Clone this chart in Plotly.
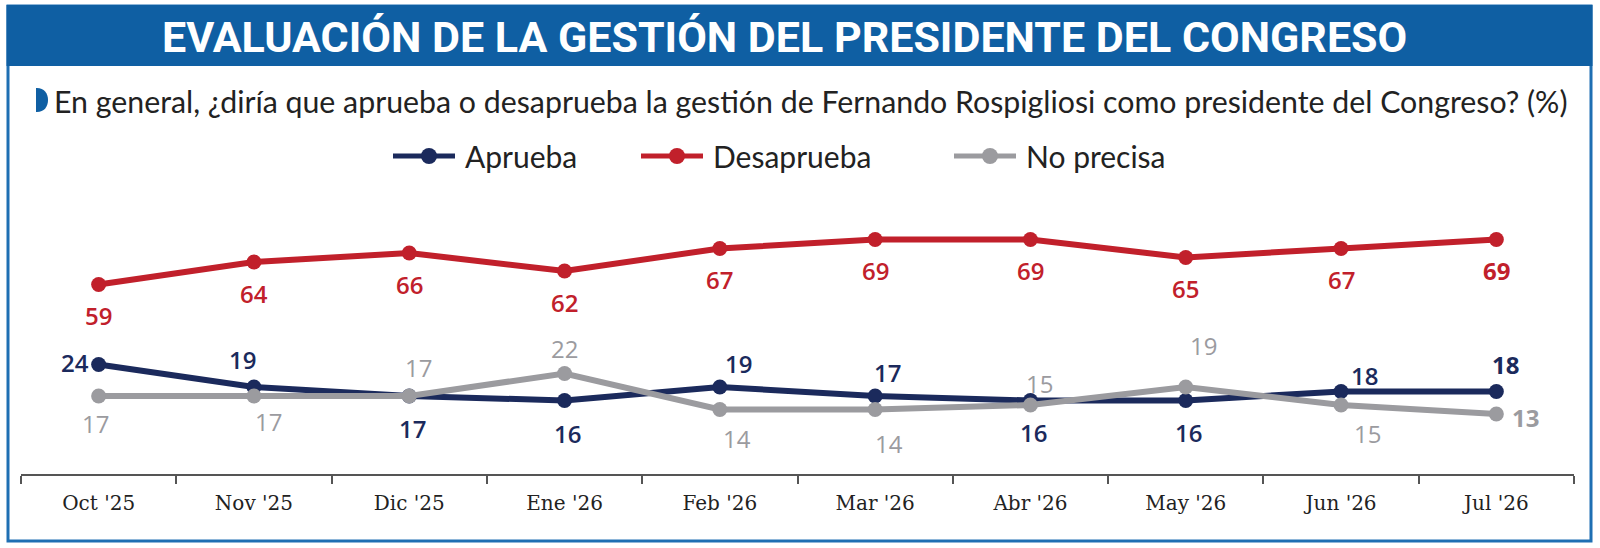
import plotly.graph_objects as go

# ---------------- data ----------------
months = ["Oct '25", "Nov '25", "Dic '25", "Ene '26", "Feb '26",
          "Mar '26", "Abr '26", "May '26", "Jun '26", "Jul '26"]
aprueba = [24, 19, 17, 16, 19, 17, 16, 16, 18, 18]
desaprueba = [59, 64, 66, 62, 67, 69, 69, 65, 67, 69]
no_precisa = [17, 17, 17, 22, 14, 14, 15, 19, 15, 13]

series_names = ["Aprueba", "Desaprueba", "No precisa"]
title_text = "EVALUACIÓN DE LA GESTIÓN DEL PRESIDENTE DEL CONGRESO"
subtitle_text = ("En general, ¿diría que aprueba o desaprueba la gestión de Fernando "
                 "Rospigliosi como presidente del Congreso? (%)")

# ---------------- styling / label placement (pixels: dx right, dy down) ----------------
NAVY = "#1b2a5c"
RED = "#c1202b"
GRAY = "#9b9b9f"
BLUE = "#0f5fa3"
BORDER = "#1e6fb3"

off_desaprueba = [(0, 31)] * 10
off_aprueba = [(-24, -2), (-11, -28), (3, 32), (3, 33), (19, -24),
               (12, -24), (3, 32), (3, 32), (23, -16), (9, -27)]
off_no_precisa = [(-3, 27), (15, 25), (9, -29), (0, -25), (17, 29),
                  (14, 34), (9, -22), (18, -42), (26, 28), (29, 3)]

W, H = 1600, 548
ML, MR, MT, MB = 21, 26, 140, 74
PW = W - ML - MR
PH = H - MT - MB


def px(x):
    return (x - ML) / PW


def py(y):
    return (H - MB - y) / PH


fig = go.Figure()

fig.add_trace(go.Scatter(x=months, y=desaprueba, name=series_names[1], yaxis="y2",
                         mode="lines+markers", line=dict(color=RED, width=6),
                         marker=dict(size=15, color=RED), cliponaxis=False,
                         showlegend=False, hoverinfo="skip"))
fig.add_trace(go.Scatter(x=months, y=aprueba, name=series_names[0], yaxis="y",
                         mode="lines+markers", line=dict(color=NAVY, width=6),
                         marker=dict(size=15, color=NAVY), cliponaxis=False,
                         showlegend=False, hoverinfo="skip"))
fig.add_trace(go.Scatter(x=months, y=no_precisa, name=series_names[2], yaxis="y",
                         mode="lines+markers", line=dict(color=GRAY, width=6),
                         marker=dict(size=15, color=GRAY), cliponaxis=False,
                         showlegend=False, hoverinfo="skip"))

annotations = []
LABEL_FONT = "Open Sans"


def add_labels(vals, offs, color, yref, weight):
    n = len(vals)
    for i, (m, v, (dx, dy)) in enumerate(zip(months, vals, offs)):
        w = 700 if i == n - 1 else weight
        annotations.append(dict(x=m, y=v, xref="x", yref=yref, text=str(v),
                                showarrow=False, xshift=dx, yshift=-dy,
                                xanchor="center", yanchor="middle",
                                font=dict(family=LABEL_FONT, size=24, color=color, weight=w)))


add_labels(desaprueba, off_desaprueba, RED, "y2", 600)
add_labels(aprueba, off_aprueba, NAVY, "y", 600)
add_labels(no_precisa, off_no_precisa, GRAY, "y", 500)

shapes = []
# outer border
shapes.append(dict(type="rect", xref="paper", yref="paper",
                   x0=px(8), x1=px(1591), y0=py(541), y1=py(6),
                   line=dict(color=BORDER, width=3), fillcolor="rgba(0,0,0,0)", layer="below"))
# title bar
shapes.append(dict(type="rect", xref="paper", yref="paper",
                   x0=px(6.5), x1=px(1592.5), y0=py(66), y1=py(5),
                   line=dict(width=0), fillcolor=BLUE, layer="below"))
# subtitle marker (half disc)
shapes.append(dict(type="path", xref="paper", yref="paper",
                   xsizemode="pixel", ysizemode="pixel",
                   xanchor=px(36), yanchor=py(100),
                   path="M 0,-12 L 1,-12 C 8,-12 12,-7 12,0 C 12,7 8,12 1,12 L 0,12 Z",
                   fillcolor=BLUE, line=dict(width=0)))

annotations.append(dict(x=px(784), y=py(37), xref="paper", yref="paper",
                        text=title_text, showarrow=False, xanchor="center", yanchor="middle",
                        font=dict(family="Roboto", size=43, color="white", weight="bold")))
annotations.append(dict(x=px(52), y=py(101), xref="paper", yref="paper",
                        text=subtitle_text, showarrow=False, xanchor="left", yanchor="middle",
                        font=dict(family="Lato", size=30.3, color="#222222")))

# custom legend
legend_items = [(series_names[0], NAVY, 393), (series_names[1], RED, 641), (series_names[2], GRAY, 954)]
LEG_Y = 156
for name, col, x0 in legend_items:
    shapes.append(dict(type="line", xref="paper", yref="paper",
                       x0=px(x0), x1=px(x0 + 62), y0=py(LEG_Y), y1=py(LEG_Y),
                       line=dict(color=col, width=5)))
    shapes.append(dict(type="circle", xref="paper", yref="paper",
                       xsizemode="pixel", ysizemode="pixel",
                       xanchor=px(x0 + 36), yanchor=py(LEG_Y),
                       x0=-8, x1=8, y0=-8, y1=8,
                       fillcolor=col, line=dict(width=0)))
    annotations.append(dict(x=px(x0 + 70), y=py(LEG_Y), xref="paper", yref="paper",
                            text=name, showarrow=False, xanchor="left", yanchor="middle",
                            font=dict(family="Lato", size=30, color="#222222")))

# y scales: 4.5 px per unit; Desaprueba on its own offset scale
SCALE = 4.5
y_zero_px = 472.5
y2_zero_px = 550
y_range = [(y_zero_px - (H - MB)) / SCALE, (y_zero_px - MT) / SCALE]
y2_range = [(y2_zero_px - (H - MB)) / SCALE, (y2_zero_px - MT) / SCALE]

fig.update_layout(
    width=W, height=H,
    margin=dict(l=ML, r=MR, t=MT, b=MB),
    paper_bgcolor="white", plot_bgcolor="white",
    showlegend=False,
    xaxis=dict(type="category", range=[-0.5, len(months) - 0.5],
               showline=True, linecolor="#555555", linewidth=1.5,
               ticks="outside", tickson="boundaries", ticklen=8, tickcolor="#555555",
               tickwidth=1.5, showgrid=False, zeroline=False, ticklabelstandoff=10,
               tickfont=dict(family="DejaVu Serif", size=20, color="#222222")),
    yaxis=dict(range=y_range, visible=False, showgrid=False, zeroline=False),
    yaxis2=dict(range=y2_range, visible=False, overlaying="y", showgrid=False, zeroline=False),
    shapes=shapes,
    annotations=annotations,
)

fig.write_html("out.html")
